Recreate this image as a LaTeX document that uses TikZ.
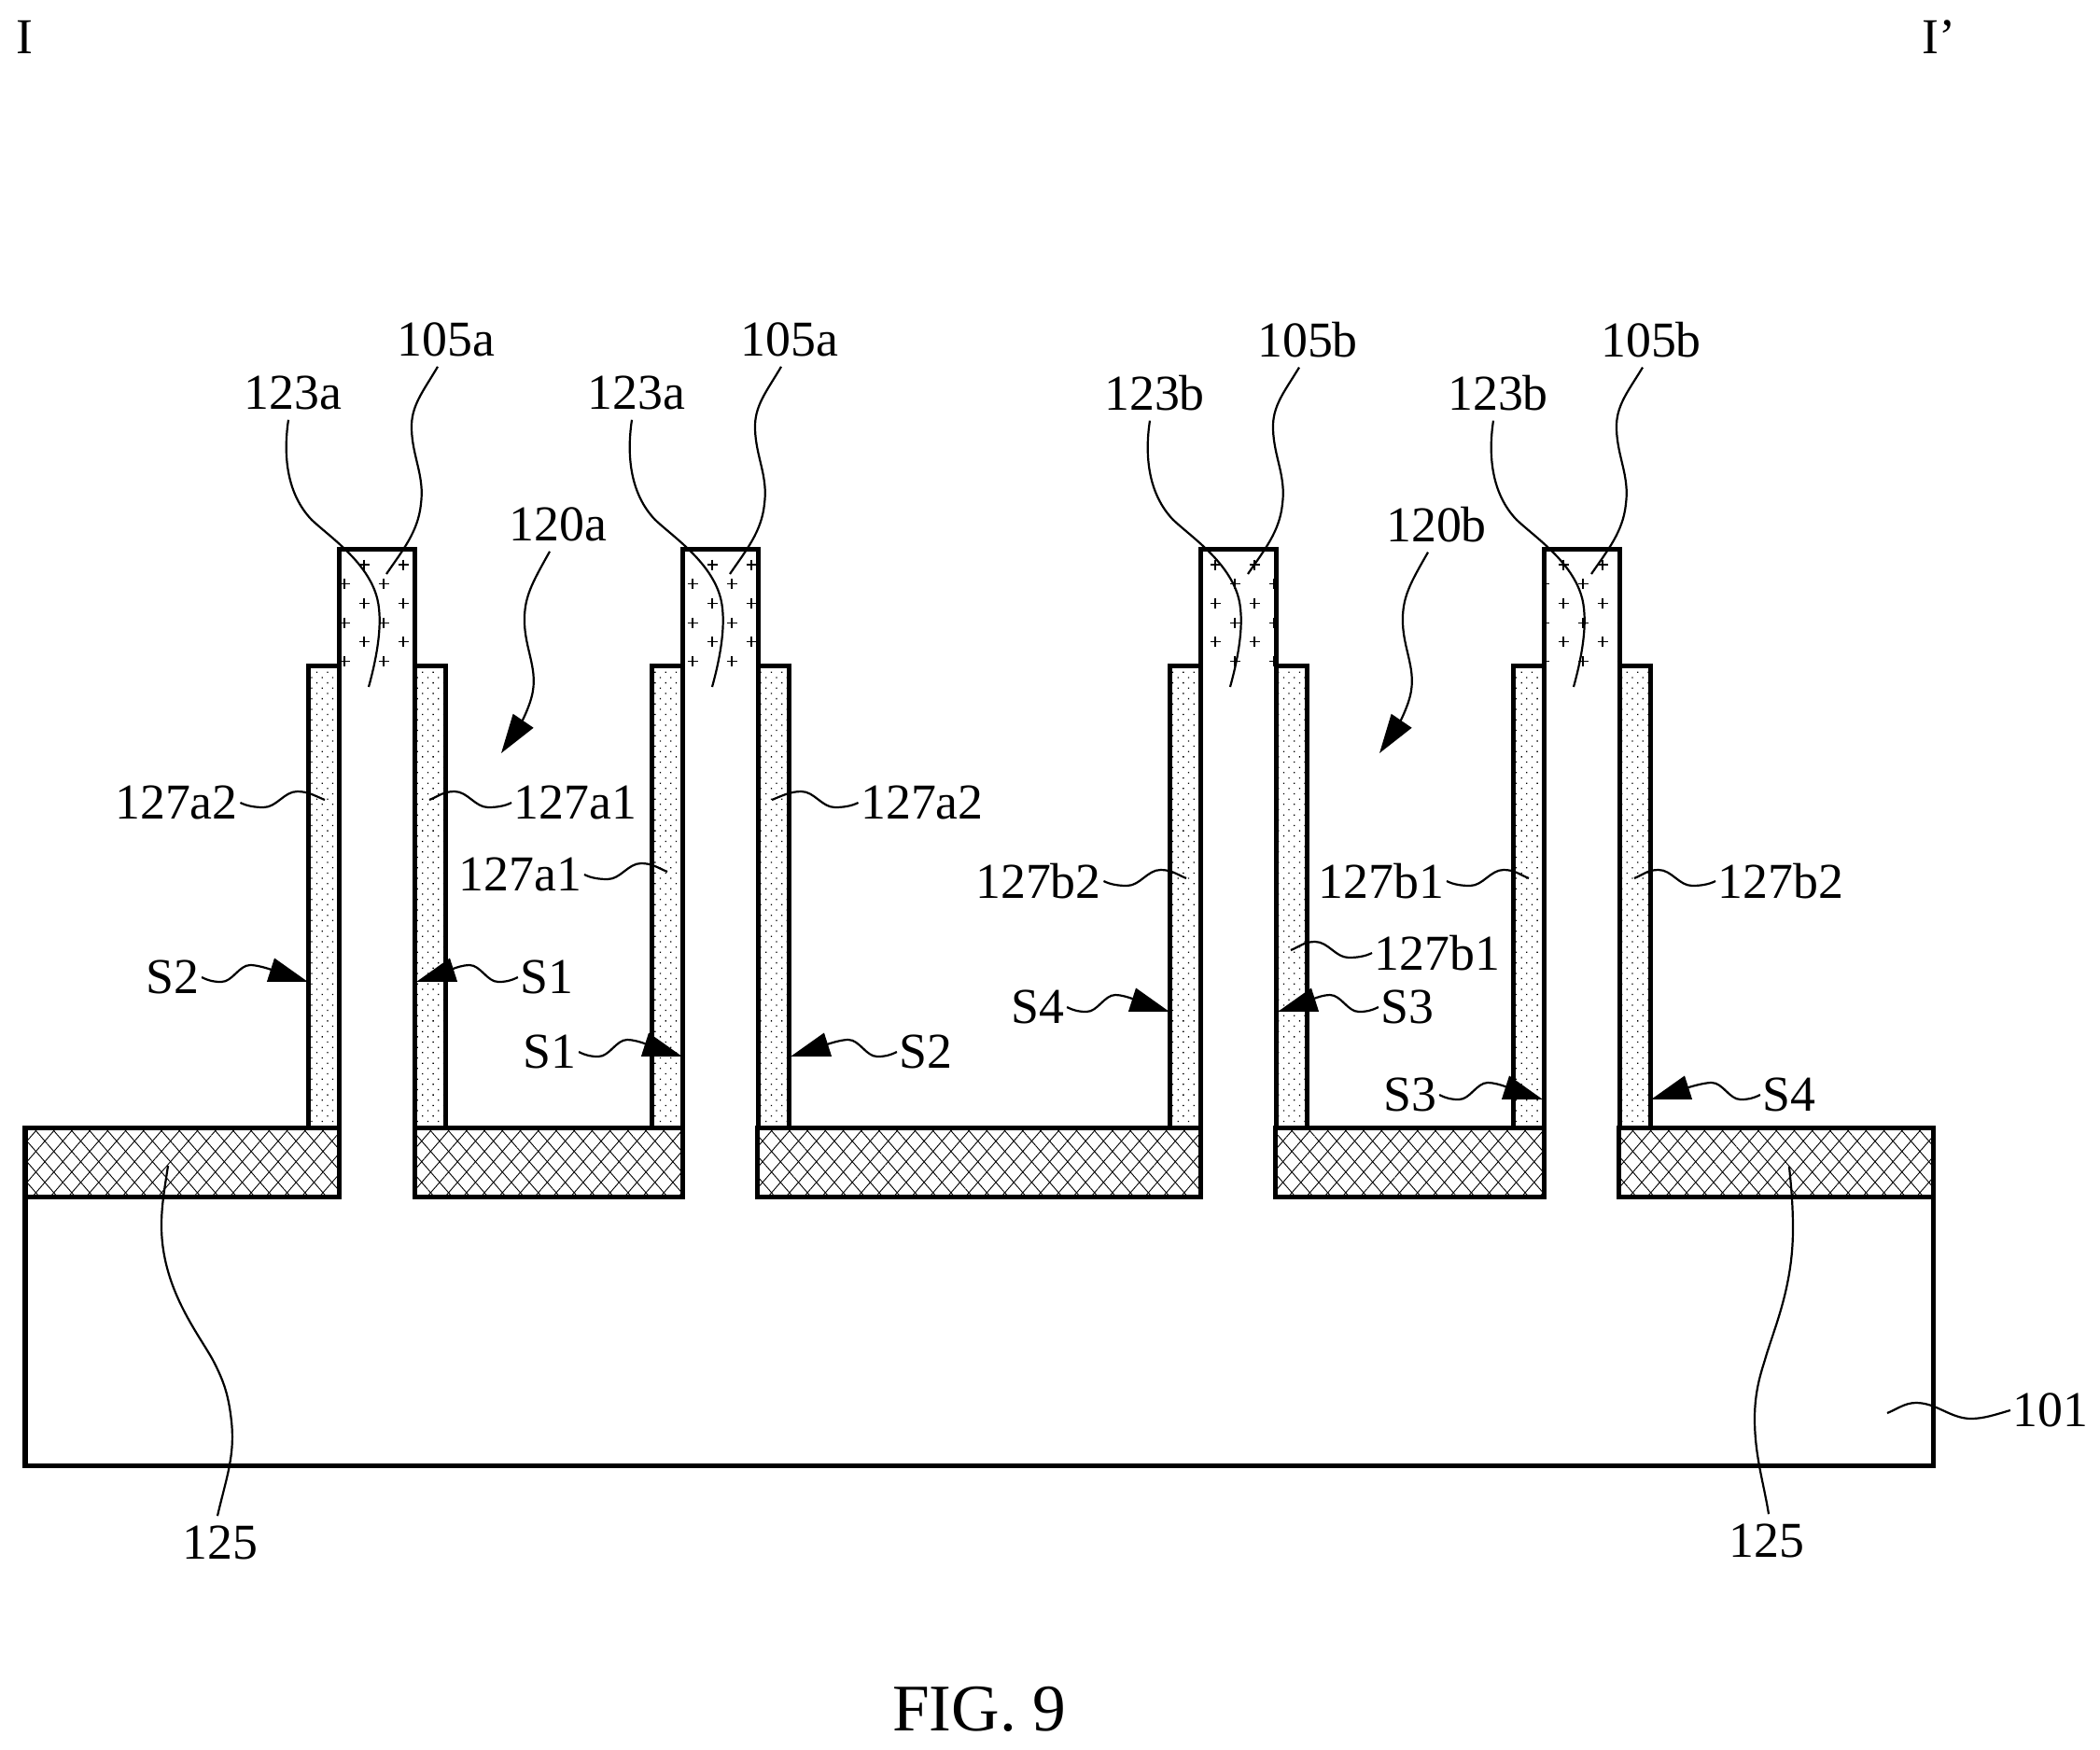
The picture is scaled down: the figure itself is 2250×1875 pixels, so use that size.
\documentclass[tikz,border=0pt]{standalone}
\usepackage{fontspec}
\setmainfont{Liberation Serif}
\usetikzlibrary{arrows.meta, patterns.meta, calc}

\begin{document}
\begin{tikzpicture}[
    x=0.01cm, y=-0.01cm,
    outline/.style={draw=black, line width=0.05cm},
    lead/.style={draw=black, line width=0.022cm},
    leadarrow/.style={lead, -{Triangle[length=0.42cm, width=0.26cm]}},
    lbl/.style={font=\fontsize{15.3pt}{18pt}\selectfont, inner sep=0.02cm},
    lbltop/.style={lbl, inner ysep=0.1cm},
    spacerfill/.style={pattern={Dots[radius=0.009cm, distance=0.08cm, angle=45]}},
    hatchfill/.style={pattern={Lines[angle=49, distance=0.145cm, line width=0.009cm]},
                      postaction={pattern={Lines[angle=-49, distance=0.145cm, line width=0.009cm]}}},
    plusmark/.style={draw=black, line width=0.012cm},
]

\useasboundingbox (0,0) rectangle (2250,1875);

% Section marks
\node[lbl] (secI) at (26,40) {I};
\node[lbl] (secIp) at (2077,40) {I'};

% Substrate
\draw[outline] (27,1282) -- (27,1570) -- (2071,1570) -- (2071,1282);

% Silicide segments
\foreach \xa/\xb in {27/363, 444/731, 811/1286, 1366/1654, 1734/2071} {
    \draw[outline, hatchfill] (\xa,1208) rectangle (\xb,1282);
}

% Pillars: spacers, cap with plus marks, labels
\foreach \xp/\dx/\cap/\fin in {330/27/105a/123a, 698/32/105a/123a, 1253/16/105b/123b, 1621/21/105b/123b} {
    \begin{scope}[shift={(\xp+33,0)}]
        \draw[outline, spacerfill] (-33,713) rectangle (0,1208);
        \draw[outline, spacerfill] (81,713) rectangle (114,1208);
        \begin{scope}
            \clip (0,588) rectangle (81,713);
            \foreach \r/\sh in {0/0, 1/-21, 2/0, 3/-21, 4/0, 5/-21} {
                \foreach \c in {0,1,2} {
                    \draw[plusmark] (\dx+\sh+42*\c,605+20.7*\r) +(-5.5,0) -- +(5.5,0) +(0,-5.5) -- +(0,5.5);
                }
            }
        \end{scope}
        \draw[outline] (0,713) -- (0,588) -- (81,588) -- (81,713);

        % Leaders of the cap and fin
        \node[lbltop] (fin\xp) at (-49,421) {\fin};
        \node[lbltop] (cap\xp) at (115,364) {\cap};
        \coordinate (finend\xp) at (32,736);
        \coordinate (capend\xp) at (51,615);
        \draw[lead] ([xshift=-0.05cm]fin\xp.south) .. controls (-60,490) and (-55,530) .. (-29,557)
            .. controls (-10,575) and (28,600) .. (40,637) .. controls (48,662) and (42,700) .. (finend\xp);
        \draw[lead] ([xshift=-0.09cm]cap\xp.south) .. controls (90,420) and (77,435) .. (78,460)
            .. controls (79,490) and (92,510) .. (88,540) .. controls (85,570) and (68,590) .. (capend\xp);
    \end{scope}
}

% Device arrows
\foreach \ox/\txt in {0/120a, 941/120b} {
    \begin{scope}[shift={(\ox,0)}]
        \node[lbltop] (dev\ox) at (598,562) {\txt};
        \coordinate (devtip\ox) at (537,807);
        \draw[leadarrow] ([xshift=-0.09cm]dev\ox.south) .. controls (570,625) and (561,640) .. (562,668)
            .. controls (563,695) and (575,715) .. (571,740) .. controls (568,760) and (552,785) .. (devtip\ox);
    \end{scope}
}

% Wave leaders without tip
\foreach \lx/\ly/\txt/\ex/\s/\anc [count=\i] in {
    189/860/127a2/348/1/east, 616.5/860/127a1/460/-1/west,
    557.5/937/127a1/715/1/east, 988/860/127a2/827/-1/west,
    1112.5/944/127b2/1271/1/east, 1480/944/127b1/1638/1/east,
    1540/1021/127b1/1383/-1/west, 1908/944/127b2/1751/-1/west} {
    \node[lbl] (wave\i) at (\lx,\ly) {\txt};
    \coordinate (waveend\i) at (\ex,\ly-3);
    \draw[lead] (wave\i.\anc) .. controls +(\s*8,4) and +(\s*-8,0) .. ++(\s*25,5)
        .. controls +(\s*14,0) and +(\s*-14,0) .. ++(\s*36,-17)
        .. controls +(\s*12,0) and +(\s*-10,-4) .. (waveend\i);
}

% Wave leaders with tip
\foreach \lx/\ly/\txt/\tx/\s/\anc [count=\i] in {
    185/1047/S2/330/1/east, 586/1047/S1/446/-1/west,
    589/1127/S1/731/1/east, 992/1127/S2/847/-1/west,
    1112/1079/S4/1253/1/east, 1508/1079/S3/1369/-1/west,
    1511/1173/S3/1653/1/east, 1917/1173/S4/1769/-1/west} {
    \node[lbl] (side\i) at (\lx,\ly) {\txt};
    \coordinate (sidetip\i) at (\tx,\ly+5);
    \draw[leadarrow] (side\i.\anc) .. controls +(\s*8,4) and +(\s*-8,0) .. ++(\s*21,5)
        .. controls +(\s*12,0) and +(\s*-12,0) .. ++(\s*31,-18)
        .. controls +(\s*12,0) and ($(sidetip\i)+(\s*-25,-8)$) .. (sidetip\i);
}

% Substrate and silicide leaders
\node[lbl] (subst) at (2197,1511) {101};
\coordinate (substend) at (2022,1514);
\draw[lead] (subst.west) .. controls +(-14,4) and +(14,0) .. ++(-42,9)
    .. controls +(-22,0) and +(22,0) .. ++(-59,-17) .. controls +(-12,0) and +(10,-4) .. (substend);

\node[lbltop] (silA) at (236,1653) {125};
\coordinate (silAend) at (180,1249);
\draw[lead] ([xshift=-0.03cm]silA.north) .. controls (242,1585) and (252,1560) .. (248,1523)
    .. controls (245,1495) and (240,1480) .. (228,1457) .. controls (212,1428) and (173,1380) .. (173,1313)
    .. controls (173,1290) and (177,1270) .. (silAend);

\node[lbltop] (silB) at (1893,1651) {125};
\coordinate (silBend) at (1917,1250);
\draw[lead] ([xshift=0.02cm]silB.north) .. controls (1890,1590) and (1880,1560) .. (1880,1520)
    .. controls (1880,1490) and (1887,1470) .. (1891,1457) .. controls (1900,1425) and (1921,1380) .. (1921,1317)
    .. controls (1921,1290) and (1919,1270) .. (silBend);

% Caption
\node[font=\fontsize{20.3pt}{24pt}\selectfont, inner sep=0pt] (caption) at (1049.5,1831) {FIG. 9};

\end{tikzpicture}
\end{document}
